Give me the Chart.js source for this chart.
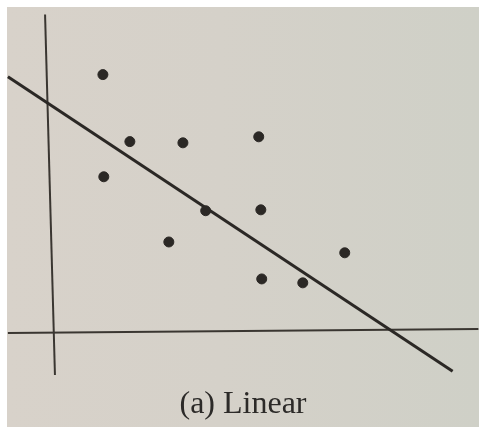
<!DOCTYPE html>
<html>
<head>
<meta charset="utf-8">
<script src="https://cdn.jsdelivr.net/npm/chart.js@4/dist/chart.umd.min.js"></script>
<style>
  html, body { margin: 0; padding: 0; background: #ffffff; }
  #wrap {
    position: absolute; left: 7px; top: 7px; width: 472px; height: 420px;
    background: linear-gradient(90deg, #d8d2ca 0%, #d5d1c9 45%, #cfd0c7 100%);
  }
</style>
</head>
<body>
<div id="wrap"><canvas id="myChart" width="472" height="420"></canvas></div>
<script>
// observations
var pointsX = [1.70, 2.60, 4.37, 6.90, 1.73, 5.13, 6.97, 3.90, 9.77, 7.00, 8.37];
var pointsY = [8.60, 6.37, 6.33, 6.53, 5.20, 4.07, 4.10, 3.03, 2.67, 1.80, 1.67];

// fitted line, end to end
var fitX = [-1.47, 13.37];
var fitY = [8.53, -1.27];

// hand drawn axes
var yAxisX = [-0.23, 0.10];
var yAxisY = [10.60, -1.40];
var xAxisX = [-1.47, 14.23];
var xAxisY = [0.00, 0.13];

var caption = "(a) Linear";

function pairs(xs, ys) {
  return xs.map(function (x, i) { return { x: x, y: ys[i] }; });
}

var ink = "#2b2825";

var ctx = document.getElementById("myChart").getContext("2d");
var myChart = new Chart(ctx, {
  type: "scatter",
  data: {
    datasets: [
      {
        data: pairs(pointsX, pointsY),
        backgroundColor: ink,
        borderColor: ink,
        pointRadius: 5,
        order: 0,
      },
      {
        data: pairs(fitX, fitY),
        showLine: true,
        borderColor: ink,
        borderWidth: 3,
        pointRadius: 0,
        order: 1,
      },
      {
        data: pairs(yAxisX, yAxisY),
        showLine: true,
        borderColor: "#3a3631",
        borderWidth: 2,
        pointRadius: 0,
        order: 2,
      },
      {
        data: pairs(xAxisX, xAxisY),
        showLine: true,
        borderColor: "#3a3631",
        borderWidth: 2,
        pointRadius: 0,
        order: 2,
      },
    ],
  },
  options: {
    responsive: false,
    animation: false,
    layout: { padding: 0, autoPadding: false },
    scales: {
      x: { type: "linear", min: -1.5, max: 14.25, display: false },
      y: { type: "linear", min: -1.75, max: 10.85, display: false },
    },
    plugins: {
      legend: { display: false },
      tooltip: { enabled: false },
      title: {
        display: true,
        position: "bottom",
        text: caption,
        color: "#2c2a28",
        font: { family: "Liberation Serif", size: 32, weight: "normal" },
        padding: { top: 0, bottom: 3 },
      },
    },
  },
});
</script>
</body>
</html>
